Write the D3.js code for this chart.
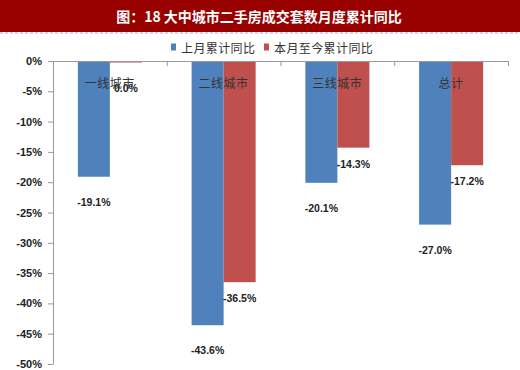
<!DOCTYPE html>
<html><head><meta charset="utf-8">
<script src="https://cdn.jsdelivr.net/npm/d3@7"></script>
<style>html,body{margin:0;padding:0;background:#fff;}svg{display:block;}</style>
</head><body>
<script>
const title = "图：18 大中城市二手房成交套数月度累计同比";
const categories = ["一线城市", "二线城市", "三线城市", "总计"];
const seriesNames = ["上月累计同比", "本月至今累计同比"];
const lastMonth = [-0.191, -0.436, -0.201, -0.270];
const thisMonth = [0.000, -0.365, -0.143, -0.172];
const yTicks = [0, -0.05, -0.10, -0.15, -0.20, -0.25, -0.30, -0.35, -0.40, -0.45, -0.50];
const colors = ["#4F81BD", "#C0504D"];

const W = 520, H = 370;
const svg = d3.select("body").append("svg").attr("width", W).attr("height", H);

// title bar
svg.append("rect").attr("x", 0).attr("y", 0).attr("width", W).attr("height", 32).attr("fill", "#990000");
svg.append("line").attr("x1", 0).attr("x2", W).attr("y1", 33).attr("y2", 33)
  .attr("stroke", "#a9a3d6").attr("stroke-width", 1.2).attr("stroke-dasharray", "3,2");
svg.append("text").attr("x", 259).attr("y", 16).attr("text-anchor", "middle").attr("dominant-baseline", "central")
  .attr("fill", "#fff").attr("font-family", "'Noto Sans CJK SC', sans-serif").attr("font-weight", "bold")
  .attr("font-size", 14).text(title);

const y = d3.scaleLinear().domain([-0.5, 0]).range([364, 61]);
const x0 = d3.scaleBand().domain(categories).range([53, 508]).paddingInner(0.437).paddingOuter(0.2185);
const x1 = d3.scaleBand().domain(seriesNames).range([0, x0.bandwidth()]);
const xi = d3.scaleLinear().domain([0, categories.length]).range([53, 508]);

const data = seriesNames.map((s, si) => ({name: s, color: colors[si], values: si === 0 ? lastMonth : thisMonth}));

// bars
data.forEach((s, si) => {
  svg.append("g").selectAll("rect").data(s.values).join("rect")
    .attr("x", (d, i) => x0(categories[i]) + x1(s.name))
    .attr("width", x1.bandwidth())
    .attr("y", d => y(0))
    .attr("height", d => Math.max(1.5, y(d) - y(0)))
    .attr("fill", s.color);
});

// y axis
const yAxis = svg.append("g").attr("transform", "translate(53,0)")
  .call(d3.axisLeft(y).tickValues(yTicks).tickSize(5).tickSizeOuter(0).tickPadding(6)
    .tickFormat(d => Math.round(d * 100) + "%"));
yAxis.selectAll("path,line").attr("stroke", "#999");
yAxis.selectAll("text").attr("font-family", "'Liberation Sans', Arial, sans-serif").attr("font-weight", "bold")
  .attr("font-size", 11).attr("fill", "#222");

// x axis (line at 0 with ticks between categories)
const xAxis = svg.append("g").attr("transform", `translate(0,${y(0)})`)
  .call(d3.axisBottom(xi).tickValues(d3.range(categories.length + 1)).tickSize(5).tickSizeOuter(0).tickFormat(""));
xAxis.selectAll("path,line").attr("stroke", "#999");

// category labels
svg.append("g").selectAll("text").data(categories).join("text")
  .attr("x", d => x0(d) + x0.bandwidth() / 2).attr("y", 82)
  .attr("text-anchor", "middle").attr("dominant-baseline", "central")
  .attr("font-family", "'Noto Sans CJK SC', sans-serif").attr("font-size", 12).attr("fill", "#333")
  .attr("letter-spacing", 0.5)
  .text(d => d);

// data labels
const fmt = d => (d < 0 ? "-" : "") + Math.abs(d * 100).toFixed(1) + "%";
const labelDy = [25, 16];
data.forEach((s, si) => {
  svg.append("g").selectAll("text").data(s.values).join("text")
    .attr("x", (d, i) => x0(categories[i]) + x1(s.name) + x1.bandwidth() / 2)
    .attr("y", d => Math.max(y(d) + labelDy[si], y(0) + 27))
    .attr("text-anchor", "middle").attr("dominant-baseline", "central")
    .attr("font-family", "'Liberation Sans', Arial, sans-serif").attr("font-weight", "bold")
    .attr("font-size", 10.5).attr("fill", "#222")
    .text(fmt);
});

// legend
const legendX = [171, 264];
const lg = svg.append("g");
data.forEach((s, si) => {
  lg.append("rect").attr("x", legendX[si]).attr("y", 43.5).attr("width", 5).attr("height", 7).attr("fill", s.color);
  lg.append("text").attr("x", legendX[si] + 10).attr("y", 47.5).attr("dominant-baseline", "central")
    .attr("font-family", "'Noto Sans CJK SC', sans-serif").attr("font-size", 12).attr("fill", "#333")
    .attr("letter-spacing", 0.4)
    .text(s.name);
});
</script>
</body></html>
